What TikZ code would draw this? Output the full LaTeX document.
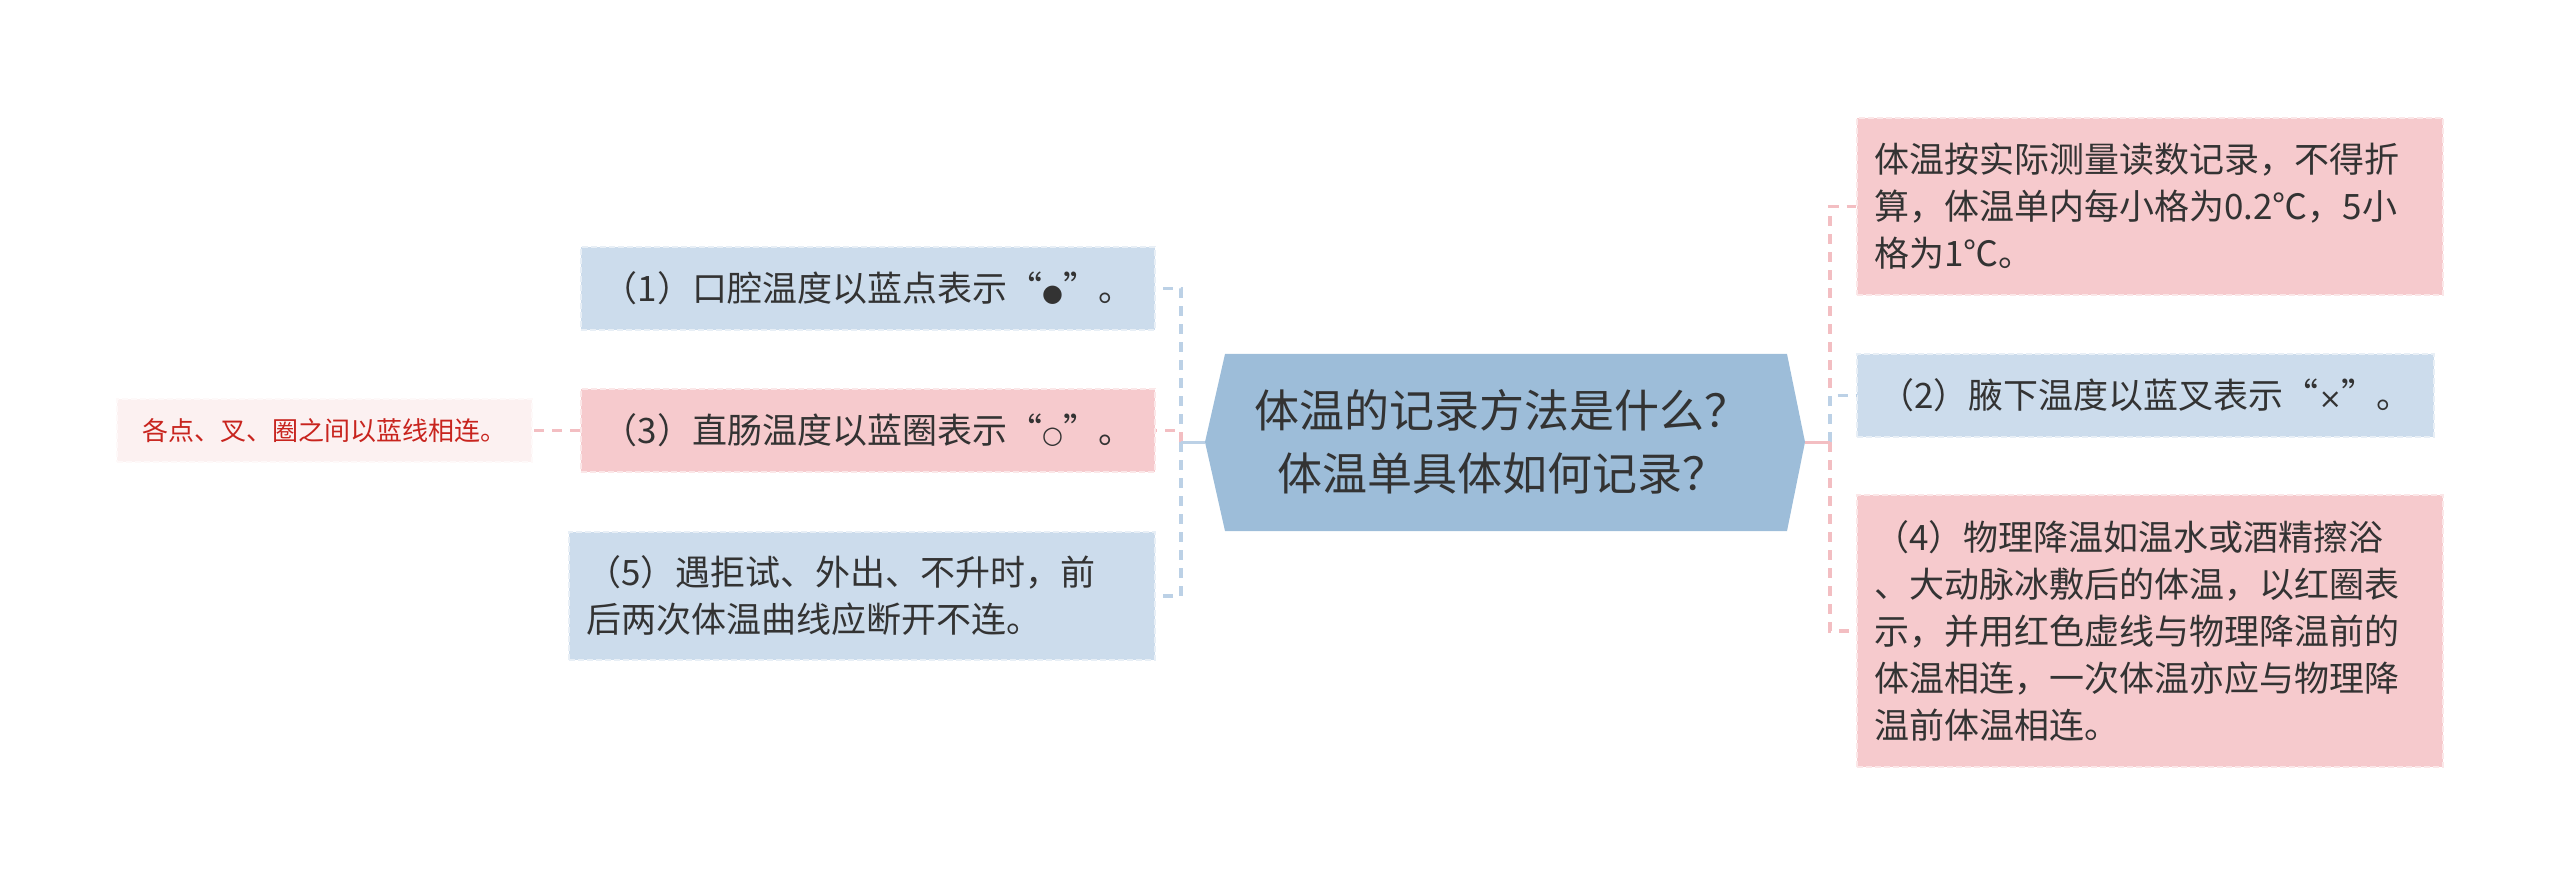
\documentclass[tikz,border=0pt]{standalone}
\usepackage{fontspec}
\setmainfont{Noto Sans CJK SC}
\newfontfamily\symf{DejaVu Sans}
\newcommand{\smallsym}[2]{{\symf\fontsize{#1}{47}\selectfont #2}}
\definecolor{bfill}{HTML}{CCDCEC}
\definecolor{pfill}{HTML}{F6CACD}
\definecolor{hfill}{HTML}{9DBDD9}
\definecolor{bline}{HTML}{BCD1E6}
\definecolor{pline}{HTML}{F3BEC2}
\definecolor{nfill}{HTML}{FCF1F1}
\definecolor{ntext}{HTML}{C8241E}
\definecolor{tcol}{HTML}{333333}
\begin{document}
\begin{tikzpicture}[x=1pt,y=-1pt,
  box/.style={inner xsep=17pt, inner ysep=0pt, font=\fontsize{35}{47}\selectfont,
    text=tcol, line width=2pt, dash pattern=on 6pt off 3pt},
  bluebox/.style={box, fill=bfill, draw=bfill!45!white},
  pinkbox/.style={box, fill=pfill, draw=pfill!45!white},
  notebox/.style={inner xsep=17pt, inner ysep=0pt, font=\fontsize{26}{34}\selectfont,
    text=ntext, fill=nfill, draw=nfill!40!white, line width=2pt, dash pattern=on 6pt off 3pt},
  hubtext/.style={font=\fontsize{45}{63}\selectfont, text=tcol, align=center, inner sep=0pt},
  solidb/.style={draw=bline, line width=3pt},
  solidp/.style={draw=pline, line width=3pt},
  dashb/.style={draw=bline, line width=3.5pt, dash pattern=on 10pt off 8pt},
  dashp/.style={draw=pline, line width=3.5pt, dash pattern=on 10pt off 8pt}
]
\useasboundingbox (0,0) rectangle (2560,885);

% central hexagon
\fill[hfill] (1205,442) -- (1225,354) -- (1787,354) -- (1805,442) -- (1787,531) -- (1225,531) -- cycle;
\node[hubtext] (hub) at (1502,442) {体温的记录方法是什么？\\体温单具体如何记录？};
\coordinate (hubL) at (1205,442);
\coordinate (hubR) at (1805,442);
\coordinate (jl) at (1181,442);
\coordinate (jr) at (1830,442);

% left children
\node[bluebox, minimum width=574pt, minimum height=83pt, text width=540pt, align=center]
  (b1) at (868,288.5) {（1）口腔温度以蓝点表示“\smallsym{24}{●}”。};
\node[pinkbox, minimum width=574pt, minimum height=83pt, text width=540pt, align=center]
  (b3) at (868,430.5) {（3）直肠温度以蓝圈表示“\smallsym{24}{○}”。};
\node[bluebox, minimum width=586pt, minimum height=128pt, text width=552pt, align=left]
  (b5) at (862,596) {（5）遇拒试、外出、不升时，前\\后两次体温曲线应断开不连。};
\node[notebox, minimum width=415pt, minimum height=63pt, text width=381pt, align=center]
  (note) at (324.5,430.5) {各点、叉、圈之间以蓝线相连。};

% right children
\node[pinkbox, minimum width=586pt, minimum height=177pt, text width=552pt, align=left]
  (bt) at (2150,206.5) {体温按实际测量读数记录，不得折\\算，体温单内每小格为0.2℃，5小\\格为1℃。};
\node[bluebox, minimum width=577pt, minimum height=83pt, text width=543pt, align=center]
  (b2) at (2145.5,395.5) {（2）腋下温度以蓝叉表示“\smallsym{28}{×}”。};
\node[pinkbox, minimum width=586pt, minimum height=272pt, text width=552pt, align=left]
  (b4) at (2150,631) {（4）物理降温如温水或酒精擦浴\\、大动脉冰敷后的体温，以红圈表\\示，并用红色虚线与物理降温前的\\体温相连，一次体温亦应与物理降\\温前体温相连。};

% connectors left
\draw[dashb] (jl) |- (b1.east);
\draw[dashb] (jl) |- (b5.east);
\draw[dashp] (jl) |- (b3.east);
\draw[solidb] (hubL) -- (jl);
\draw[dashp] (b3.west) -- (note.east);

% connectors right
\draw[dashp] (jr) |- (bt.west);
\draw[dashp] (jr) |- (b4.west);
\draw[dashb] (jr) |- (b2.west);
\draw[solidp] (hubR) -- (jr);
\end{tikzpicture}
\end{document}
